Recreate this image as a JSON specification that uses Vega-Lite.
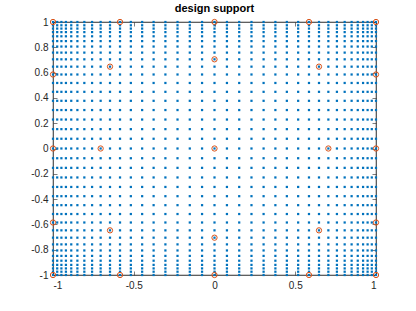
{
"$schema": "https://vega.github.io/schema/vega-lite/v6.json",
"width": 323,
"height": 253,
"autosize": {"type": "none"},
"padding": {"left": 53, "top": 22, "right": 40, "bottom": 36},
"background": "white",
"config": {
  "view": {"stroke": "#262626", "strokeWidth": 0.6},
  "font": "Liberation Sans",
  "axis": {"grid": false, "domainColor": "#262626", "domainWidth": 0.6, "tickColor": "#262626", "tickWidth": 0.6, "tickSize": -4, "labelColor": "#262626", "labelFont": "Liberation Sans", "labelFontSize": 10, "title": null}
},
"title": {"text": "design support", "fontSize": 11, "fontWeight": "bold", "color": "#000000", "font": "Liberation Sans", "anchor": "middle", "offset": 3},
"datasets": {
"grid": [
{"x":-1,"y":-1},{"x":-1,"y":-0.974},{"x":-1,"y":-0.948},{"x":-1,"y":-0.92},{"x":-1,"y":-0.887},{"x":-1,"y":-0.849},{"x":-1,"y":-0.806},{"x":-1,"y":-0.758},{"x":-1,"y":-0.705},{"x":-1,"y":-0.647},{"x":-1,"y":-0.585},{"x":-1,"y":-0.518},{"x":-1,"y":-0.448},{"x":-1,"y":-0.377},{"x":-1,"y":-0.304},{"x":-1,"y":-0.229},{"x":-1,"y":-0.153},{"x":-1,"y":-0.077},{"x":-1,"y":0},{"x":-1,"y":0.077},{"x":-1,"y":0.153},{"x":-1,"y":0.229},{"x":-1,"y":0.304},{"x":-1,"y":0.377},{"x":-1,"y":0.448},{"x":-1,"y":0.518},{"x":-1,"y":0.585},{"x":-1,"y":0.647},{"x":-1,"y":0.705},{"x":-1,"y":0.758},{"x":-1,"y":0.806},{"x":-1,"y":0.849},{"x":-1,"y":0.887},{"x":-1,"y":0.92},{"x":-1,"y":0.948},{"x":-1,"y":0.974},{"x":-1,"y":1},
{"x":-0.974,"y":-1},{"x":-0.974,"y":-0.974},{"x":-0.974,"y":-0.948},{"x":-0.974,"y":-0.92},{"x":-0.974,"y":-0.887},{"x":-0.974,"y":-0.849},{"x":-0.974,"y":-0.806},{"x":-0.974,"y":-0.758},{"x":-0.974,"y":-0.705},{"x":-0.974,"y":-0.647},{"x":-0.974,"y":-0.585},{"x":-0.974,"y":-0.518},{"x":-0.974,"y":-0.448},{"x":-0.974,"y":-0.377},{"x":-0.974,"y":-0.304},{"x":-0.974,"y":-0.229},{"x":-0.974,"y":-0.153},{"x":-0.974,"y":-0.077},{"x":-0.974,"y":0},{"x":-0.974,"y":0.077},{"x":-0.974,"y":0.153},{"x":-0.974,"y":0.229},{"x":-0.974,"y":0.304},{"x":-0.974,"y":0.377},{"x":-0.974,"y":0.448},{"x":-0.974,"y":0.518},{"x":-0.974,"y":0.585},{"x":-0.974,"y":0.647},{"x":-0.974,"y":0.705},{"x":-0.974,"y":0.758},{"x":-0.974,"y":0.806},{"x":-0.974,"y":0.849},{"x":-0.974,"y":0.887},{"x":-0.974,"y":0.92},{"x":-0.974,"y":0.948},{"x":-0.974,"y":0.974},{"x":-0.974,"y":1},
{"x":-0.948,"y":-1},{"x":-0.948,"y":-0.974},{"x":-0.948,"y":-0.948},{"x":-0.948,"y":-0.92},{"x":-0.948,"y":-0.887},{"x":-0.948,"y":-0.849},{"x":-0.948,"y":-0.806},{"x":-0.948,"y":-0.758},{"x":-0.948,"y":-0.705},{"x":-0.948,"y":-0.647},{"x":-0.948,"y":-0.585},{"x":-0.948,"y":-0.518},{"x":-0.948,"y":-0.448},{"x":-0.948,"y":-0.377},{"x":-0.948,"y":-0.304},{"x":-0.948,"y":-0.229},{"x":-0.948,"y":-0.153},{"x":-0.948,"y":-0.077},{"x":-0.948,"y":0},{"x":-0.948,"y":0.077},{"x":-0.948,"y":0.153},{"x":-0.948,"y":0.229},{"x":-0.948,"y":0.304},{"x":-0.948,"y":0.377},{"x":-0.948,"y":0.448},{"x":-0.948,"y":0.518},{"x":-0.948,"y":0.585},{"x":-0.948,"y":0.647},{"x":-0.948,"y":0.705},{"x":-0.948,"y":0.758},{"x":-0.948,"y":0.806},{"x":-0.948,"y":0.849},{"x":-0.948,"y":0.887},{"x":-0.948,"y":0.92},{"x":-0.948,"y":0.948},{"x":-0.948,"y":0.974},{"x":-0.948,"y":1},
{"x":-0.92,"y":-1},{"x":-0.92,"y":-0.974},{"x":-0.92,"y":-0.948},{"x":-0.92,"y":-0.92},{"x":-0.92,"y":-0.887},{"x":-0.92,"y":-0.849},{"x":-0.92,"y":-0.806},{"x":-0.92,"y":-0.758},{"x":-0.92,"y":-0.705},{"x":-0.92,"y":-0.647},{"x":-0.92,"y":-0.585},{"x":-0.92,"y":-0.518},{"x":-0.92,"y":-0.448},{"x":-0.92,"y":-0.377},{"x":-0.92,"y":-0.304},{"x":-0.92,"y":-0.229},{"x":-0.92,"y":-0.153},{"x":-0.92,"y":-0.077},{"x":-0.92,"y":0},{"x":-0.92,"y":0.077},{"x":-0.92,"y":0.153},{"x":-0.92,"y":0.229},{"x":-0.92,"y":0.304},{"x":-0.92,"y":0.377},{"x":-0.92,"y":0.448},{"x":-0.92,"y":0.518},{"x":-0.92,"y":0.585},{"x":-0.92,"y":0.647},{"x":-0.92,"y":0.705},{"x":-0.92,"y":0.758},{"x":-0.92,"y":0.806},{"x":-0.92,"y":0.849},{"x":-0.92,"y":0.887},{"x":-0.92,"y":0.92},{"x":-0.92,"y":0.948},{"x":-0.92,"y":0.974},{"x":-0.92,"y":1},
{"x":-0.887,"y":-1},{"x":-0.887,"y":-0.974},{"x":-0.887,"y":-0.948},{"x":-0.887,"y":-0.92},{"x":-0.887,"y":-0.887},{"x":-0.887,"y":-0.849},{"x":-0.887,"y":-0.806},{"x":-0.887,"y":-0.758},{"x":-0.887,"y":-0.705},{"x":-0.887,"y":-0.647},{"x":-0.887,"y":-0.585},{"x":-0.887,"y":-0.518},{"x":-0.887,"y":-0.448},{"x":-0.887,"y":-0.377},{"x":-0.887,"y":-0.304},{"x":-0.887,"y":-0.229},{"x":-0.887,"y":-0.153},{"x":-0.887,"y":-0.077},{"x":-0.887,"y":0},{"x":-0.887,"y":0.077},{"x":-0.887,"y":0.153},{"x":-0.887,"y":0.229},{"x":-0.887,"y":0.304},{"x":-0.887,"y":0.377},{"x":-0.887,"y":0.448},{"x":-0.887,"y":0.518},{"x":-0.887,"y":0.585},{"x":-0.887,"y":0.647},{"x":-0.887,"y":0.705},{"x":-0.887,"y":0.758},{"x":-0.887,"y":0.806},{"x":-0.887,"y":0.849},{"x":-0.887,"y":0.887},{"x":-0.887,"y":0.92},{"x":-0.887,"y":0.948},{"x":-0.887,"y":0.974},{"x":-0.887,"y":1},
{"x":-0.849,"y":-1},{"x":-0.849,"y":-0.974},{"x":-0.849,"y":-0.948},{"x":-0.849,"y":-0.92},{"x":-0.849,"y":-0.887},{"x":-0.849,"y":-0.849},{"x":-0.849,"y":-0.806},{"x":-0.849,"y":-0.758},{"x":-0.849,"y":-0.705},{"x":-0.849,"y":-0.647},{"x":-0.849,"y":-0.585},{"x":-0.849,"y":-0.518},{"x":-0.849,"y":-0.448},{"x":-0.849,"y":-0.377},{"x":-0.849,"y":-0.304},{"x":-0.849,"y":-0.229},{"x":-0.849,"y":-0.153},{"x":-0.849,"y":-0.077},{"x":-0.849,"y":0},{"x":-0.849,"y":0.077},{"x":-0.849,"y":0.153},{"x":-0.849,"y":0.229},{"x":-0.849,"y":0.304},{"x":-0.849,"y":0.377},{"x":-0.849,"y":0.448},{"x":-0.849,"y":0.518},{"x":-0.849,"y":0.585},{"x":-0.849,"y":0.647},{"x":-0.849,"y":0.705},{"x":-0.849,"y":0.758},{"x":-0.849,"y":0.806},{"x":-0.849,"y":0.849},{"x":-0.849,"y":0.887},{"x":-0.849,"y":0.92},{"x":-0.849,"y":0.948},{"x":-0.849,"y":0.974},{"x":-0.849,"y":1},
{"x":-0.806,"y":-1},{"x":-0.806,"y":-0.974},{"x":-0.806,"y":-0.948},{"x":-0.806,"y":-0.92},{"x":-0.806,"y":-0.887},{"x":-0.806,"y":-0.849},{"x":-0.806,"y":-0.806},{"x":-0.806,"y":-0.758},{"x":-0.806,"y":-0.705},{"x":-0.806,"y":-0.647},{"x":-0.806,"y":-0.585},{"x":-0.806,"y":-0.518},{"x":-0.806,"y":-0.448},{"x":-0.806,"y":-0.377},{"x":-0.806,"y":-0.304},{"x":-0.806,"y":-0.229},{"x":-0.806,"y":-0.153},{"x":-0.806,"y":-0.077},{"x":-0.806,"y":0},{"x":-0.806,"y":0.077},{"x":-0.806,"y":0.153},{"x":-0.806,"y":0.229},{"x":-0.806,"y":0.304},{"x":-0.806,"y":0.377},{"x":-0.806,"y":0.448},{"x":-0.806,"y":0.518},{"x":-0.806,"y":0.585},{"x":-0.806,"y":0.647},{"x":-0.806,"y":0.705},{"x":-0.806,"y":0.758},{"x":-0.806,"y":0.806},{"x":-0.806,"y":0.849},{"x":-0.806,"y":0.887},{"x":-0.806,"y":0.92},{"x":-0.806,"y":0.948},{"x":-0.806,"y":0.974},{"x":-0.806,"y":1},
{"x":-0.758,"y":-1},{"x":-0.758,"y":-0.974},{"x":-0.758,"y":-0.948},{"x":-0.758,"y":-0.92},{"x":-0.758,"y":-0.887},{"x":-0.758,"y":-0.849},{"x":-0.758,"y":-0.806},{"x":-0.758,"y":-0.758},{"x":-0.758,"y":-0.705},{"x":-0.758,"y":-0.647},{"x":-0.758,"y":-0.585},{"x":-0.758,"y":-0.518},{"x":-0.758,"y":-0.448},{"x":-0.758,"y":-0.377},{"x":-0.758,"y":-0.304},{"x":-0.758,"y":-0.229},{"x":-0.758,"y":-0.153},{"x":-0.758,"y":-0.077},{"x":-0.758,"y":0},{"x":-0.758,"y":0.077},{"x":-0.758,"y":0.153},{"x":-0.758,"y":0.229},{"x":-0.758,"y":0.304},{"x":-0.758,"y":0.377},{"x":-0.758,"y":0.448},{"x":-0.758,"y":0.518},{"x":-0.758,"y":0.585},{"x":-0.758,"y":0.647},{"x":-0.758,"y":0.705},{"x":-0.758,"y":0.758},{"x":-0.758,"y":0.806},{"x":-0.758,"y":0.849},{"x":-0.758,"y":0.887},{"x":-0.758,"y":0.92},{"x":-0.758,"y":0.948},{"x":-0.758,"y":0.974},{"x":-0.758,"y":1},
{"x":-0.705,"y":-1},{"x":-0.705,"y":-0.974},{"x":-0.705,"y":-0.948},{"x":-0.705,"y":-0.92},{"x":-0.705,"y":-0.887},{"x":-0.705,"y":-0.849},{"x":-0.705,"y":-0.806},{"x":-0.705,"y":-0.758},{"x":-0.705,"y":-0.705},{"x":-0.705,"y":-0.647},{"x":-0.705,"y":-0.585},{"x":-0.705,"y":-0.518},{"x":-0.705,"y":-0.448},{"x":-0.705,"y":-0.377},{"x":-0.705,"y":-0.304},{"x":-0.705,"y":-0.229},{"x":-0.705,"y":-0.153},{"x":-0.705,"y":-0.077},{"x":-0.705,"y":0},{"x":-0.705,"y":0.077},{"x":-0.705,"y":0.153},{"x":-0.705,"y":0.229},{"x":-0.705,"y":0.304},{"x":-0.705,"y":0.377},{"x":-0.705,"y":0.448},{"x":-0.705,"y":0.518},{"x":-0.705,"y":0.585},{"x":-0.705,"y":0.647},{"x":-0.705,"y":0.705},{"x":-0.705,"y":0.758},{"x":-0.705,"y":0.806},{"x":-0.705,"y":0.849},{"x":-0.705,"y":0.887},{"x":-0.705,"y":0.92},{"x":-0.705,"y":0.948},{"x":-0.705,"y":0.974},{"x":-0.705,"y":1},
{"x":-0.647,"y":-1},{"x":-0.647,"y":-0.974},{"x":-0.647,"y":-0.948},{"x":-0.647,"y":-0.92},{"x":-0.647,"y":-0.887},{"x":-0.647,"y":-0.849},{"x":-0.647,"y":-0.806},{"x":-0.647,"y":-0.758},{"x":-0.647,"y":-0.705},{"x":-0.647,"y":-0.647},{"x":-0.647,"y":-0.585},{"x":-0.647,"y":-0.518},{"x":-0.647,"y":-0.448},{"x":-0.647,"y":-0.377},{"x":-0.647,"y":-0.304},{"x":-0.647,"y":-0.229},{"x":-0.647,"y":-0.153},{"x":-0.647,"y":-0.077},{"x":-0.647,"y":0},{"x":-0.647,"y":0.077},{"x":-0.647,"y":0.153},{"x":-0.647,"y":0.229},{"x":-0.647,"y":0.304},{"x":-0.647,"y":0.377},{"x":-0.647,"y":0.448},{"x":-0.647,"y":0.518},{"x":-0.647,"y":0.585},{"x":-0.647,"y":0.647},{"x":-0.647,"y":0.705},{"x":-0.647,"y":0.758},{"x":-0.647,"y":0.806},{"x":-0.647,"y":0.849},{"x":-0.647,"y":0.887},{"x":-0.647,"y":0.92},{"x":-0.647,"y":0.948},{"x":-0.647,"y":0.974},{"x":-0.647,"y":1},
{"x":-0.585,"y":-1},{"x":-0.585,"y":-0.974},{"x":-0.585,"y":-0.948},{"x":-0.585,"y":-0.92},{"x":-0.585,"y":-0.887},{"x":-0.585,"y":-0.849},{"x":-0.585,"y":-0.806},{"x":-0.585,"y":-0.758},{"x":-0.585,"y":-0.705},{"x":-0.585,"y":-0.647},{"x":-0.585,"y":-0.585},{"x":-0.585,"y":-0.518},{"x":-0.585,"y":-0.448},{"x":-0.585,"y":-0.377},{"x":-0.585,"y":-0.304},{"x":-0.585,"y":-0.229},{"x":-0.585,"y":-0.153},{"x":-0.585,"y":-0.077},{"x":-0.585,"y":0},{"x":-0.585,"y":0.077},{"x":-0.585,"y":0.153},{"x":-0.585,"y":0.229},{"x":-0.585,"y":0.304},{"x":-0.585,"y":0.377},{"x":-0.585,"y":0.448},{"x":-0.585,"y":0.518},{"x":-0.585,"y":0.585},{"x":-0.585,"y":0.647},{"x":-0.585,"y":0.705},{"x":-0.585,"y":0.758},{"x":-0.585,"y":0.806},{"x":-0.585,"y":0.849},{"x":-0.585,"y":0.887},{"x":-0.585,"y":0.92},{"x":-0.585,"y":0.948},{"x":-0.585,"y":0.974},{"x":-0.585,"y":1},
{"x":-0.518,"y":-1},{"x":-0.518,"y":-0.974},{"x":-0.518,"y":-0.948},{"x":-0.518,"y":-0.92},{"x":-0.518,"y":-0.887},{"x":-0.518,"y":-0.849},{"x":-0.518,"y":-0.806},{"x":-0.518,"y":-0.758},{"x":-0.518,"y":-0.705},{"x":-0.518,"y":-0.647},{"x":-0.518,"y":-0.585},{"x":-0.518,"y":-0.518},{"x":-0.518,"y":-0.448},{"x":-0.518,"y":-0.377},{"x":-0.518,"y":-0.304},{"x":-0.518,"y":-0.229},{"x":-0.518,"y":-0.153},{"x":-0.518,"y":-0.077},{"x":-0.518,"y":0},{"x":-0.518,"y":0.077},{"x":-0.518,"y":0.153},{"x":-0.518,"y":0.229},{"x":-0.518,"y":0.304},{"x":-0.518,"y":0.377},{"x":-0.518,"y":0.448},{"x":-0.518,"y":0.518},{"x":-0.518,"y":0.585},{"x":-0.518,"y":0.647},{"x":-0.518,"y":0.705},{"x":-0.518,"y":0.758},{"x":-0.518,"y":0.806},{"x":-0.518,"y":0.849},{"x":-0.518,"y":0.887},{"x":-0.518,"y":0.92},{"x":-0.518,"y":0.948},{"x":-0.518,"y":0.974},{"x":-0.518,"y":1},
{"x":-0.448,"y":-1},{"x":-0.448,"y":-0.974},{"x":-0.448,"y":-0.948},{"x":-0.448,"y":-0.92},{"x":-0.448,"y":-0.887},{"x":-0.448,"y":-0.849},{"x":-0.448,"y":-0.806},{"x":-0.448,"y":-0.758},{"x":-0.448,"y":-0.705},{"x":-0.448,"y":-0.647},{"x":-0.448,"y":-0.585},{"x":-0.448,"y":-0.518},{"x":-0.448,"y":-0.448},{"x":-0.448,"y":-0.377},{"x":-0.448,"y":-0.304},{"x":-0.448,"y":-0.229},{"x":-0.448,"y":-0.153},{"x":-0.448,"y":-0.077},{"x":-0.448,"y":0},{"x":-0.448,"y":0.077},{"x":-0.448,"y":0.153},{"x":-0.448,"y":0.229},{"x":-0.448,"y":0.304},{"x":-0.448,"y":0.377},{"x":-0.448,"y":0.448},{"x":-0.448,"y":0.518},{"x":-0.448,"y":0.585},{"x":-0.448,"y":0.647},{"x":-0.448,"y":0.705},{"x":-0.448,"y":0.758},{"x":-0.448,"y":0.806},{"x":-0.448,"y":0.849},{"x":-0.448,"y":0.887},{"x":-0.448,"y":0.92},{"x":-0.448,"y":0.948},{"x":-0.448,"y":0.974},{"x":-0.448,"y":1},
{"x":-0.377,"y":-1},{"x":-0.377,"y":-0.974},{"x":-0.377,"y":-0.948},{"x":-0.377,"y":-0.92},{"x":-0.377,"y":-0.887},{"x":-0.377,"y":-0.849},{"x":-0.377,"y":-0.806},{"x":-0.377,"y":-0.758},{"x":-0.377,"y":-0.705},{"x":-0.377,"y":-0.647},{"x":-0.377,"y":-0.585},{"x":-0.377,"y":-0.518},{"x":-0.377,"y":-0.448},{"x":-0.377,"y":-0.377},{"x":-0.377,"y":-0.304},{"x":-0.377,"y":-0.229},{"x":-0.377,"y":-0.153},{"x":-0.377,"y":-0.077},{"x":-0.377,"y":0},{"x":-0.377,"y":0.077},{"x":-0.377,"y":0.153},{"x":-0.377,"y":0.229},{"x":-0.377,"y":0.304},{"x":-0.377,"y":0.377},{"x":-0.377,"y":0.448},{"x":-0.377,"y":0.518},{"x":-0.377,"y":0.585},{"x":-0.377,"y":0.647},{"x":-0.377,"y":0.705},{"x":-0.377,"y":0.758},{"x":-0.377,"y":0.806},{"x":-0.377,"y":0.849},{"x":-0.377,"y":0.887},{"x":-0.377,"y":0.92},{"x":-0.377,"y":0.948},{"x":-0.377,"y":0.974},{"x":-0.377,"y":1},
{"x":-0.304,"y":-1},{"x":-0.304,"y":-0.974},{"x":-0.304,"y":-0.948},{"x":-0.304,"y":-0.92},{"x":-0.304,"y":-0.887},{"x":-0.304,"y":-0.849},{"x":-0.304,"y":-0.806},{"x":-0.304,"y":-0.758},{"x":-0.304,"y":-0.705},{"x":-0.304,"y":-0.647},{"x":-0.304,"y":-0.585},{"x":-0.304,"y":-0.518},{"x":-0.304,"y":-0.448},{"x":-0.304,"y":-0.377},{"x":-0.304,"y":-0.304},{"x":-0.304,"y":-0.229},{"x":-0.304,"y":-0.153},{"x":-0.304,"y":-0.077},{"x":-0.304,"y":0},{"x":-0.304,"y":0.077},{"x":-0.304,"y":0.153},{"x":-0.304,"y":0.229},{"x":-0.304,"y":0.304},{"x":-0.304,"y":0.377},{"x":-0.304,"y":0.448},{"x":-0.304,"y":0.518},{"x":-0.304,"y":0.585},{"x":-0.304,"y":0.647},{"x":-0.304,"y":0.705},{"x":-0.304,"y":0.758},{"x":-0.304,"y":0.806},{"x":-0.304,"y":0.849},{"x":-0.304,"y":0.887},{"x":-0.304,"y":0.92},{"x":-0.304,"y":0.948},{"x":-0.304,"y":0.974},{"x":-0.304,"y":1},
{"x":-0.229,"y":-1},{"x":-0.229,"y":-0.974},{"x":-0.229,"y":-0.948},{"x":-0.229,"y":-0.92},{"x":-0.229,"y":-0.887},{"x":-0.229,"y":-0.849},{"x":-0.229,"y":-0.806},{"x":-0.229,"y":-0.758},{"x":-0.229,"y":-0.705},{"x":-0.229,"y":-0.647},{"x":-0.229,"y":-0.585},{"x":-0.229,"y":-0.518},{"x":-0.229,"y":-0.448},{"x":-0.229,"y":-0.377},{"x":-0.229,"y":-0.304},{"x":-0.229,"y":-0.229},{"x":-0.229,"y":-0.153},{"x":-0.229,"y":-0.077},{"x":-0.229,"y":0},{"x":-0.229,"y":0.077},{"x":-0.229,"y":0.153},{"x":-0.229,"y":0.229},{"x":-0.229,"y":0.304},{"x":-0.229,"y":0.377},{"x":-0.229,"y":0.448},{"x":-0.229,"y":0.518},{"x":-0.229,"y":0.585},{"x":-0.229,"y":0.647},{"x":-0.229,"y":0.705},{"x":-0.229,"y":0.758},{"x":-0.229,"y":0.806},{"x":-0.229,"y":0.849},{"x":-0.229,"y":0.887},{"x":-0.229,"y":0.92},{"x":-0.229,"y":0.948},{"x":-0.229,"y":0.974},{"x":-0.229,"y":1},
{"x":-0.153,"y":-1},{"x":-0.153,"y":-0.974},{"x":-0.153,"y":-0.948},{"x":-0.153,"y":-0.92},{"x":-0.153,"y":-0.887},{"x":-0.153,"y":-0.849},{"x":-0.153,"y":-0.806},{"x":-0.153,"y":-0.758},{"x":-0.153,"y":-0.705},{"x":-0.153,"y":-0.647},{"x":-0.153,"y":-0.585},{"x":-0.153,"y":-0.518},{"x":-0.153,"y":-0.448},{"x":-0.153,"y":-0.377},{"x":-0.153,"y":-0.304},{"x":-0.153,"y":-0.229},{"x":-0.153,"y":-0.153},{"x":-0.153,"y":-0.077},{"x":-0.153,"y":0},{"x":-0.153,"y":0.077},{"x":-0.153,"y":0.153},{"x":-0.153,"y":0.229},{"x":-0.153,"y":0.304},{"x":-0.153,"y":0.377},{"x":-0.153,"y":0.448},{"x":-0.153,"y":0.518},{"x":-0.153,"y":0.585},{"x":-0.153,"y":0.647},{"x":-0.153,"y":0.705},{"x":-0.153,"y":0.758},{"x":-0.153,"y":0.806},{"x":-0.153,"y":0.849},{"x":-0.153,"y":0.887},{"x":-0.153,"y":0.92},{"x":-0.153,"y":0.948},{"x":-0.153,"y":0.974},{"x":-0.153,"y":1},
{"x":-0.077,"y":-1},{"x":-0.077,"y":-0.974},{"x":-0.077,"y":-0.948},{"x":-0.077,"y":-0.92},{"x":-0.077,"y":-0.887},{"x":-0.077,"y":-0.849},{"x":-0.077,"y":-0.806},{"x":-0.077,"y":-0.758},{"x":-0.077,"y":-0.705},{"x":-0.077,"y":-0.647},{"x":-0.077,"y":-0.585},{"x":-0.077,"y":-0.518},{"x":-0.077,"y":-0.448},{"x":-0.077,"y":-0.377},{"x":-0.077,"y":-0.304},{"x":-0.077,"y":-0.229},{"x":-0.077,"y":-0.153},{"x":-0.077,"y":-0.077},{"x":-0.077,"y":0},{"x":-0.077,"y":0.077},{"x":-0.077,"y":0.153},{"x":-0.077,"y":0.229},{"x":-0.077,"y":0.304},{"x":-0.077,"y":0.377},{"x":-0.077,"y":0.448},{"x":-0.077,"y":0.518},{"x":-0.077,"y":0.585},{"x":-0.077,"y":0.647},{"x":-0.077,"y":0.705},{"x":-0.077,"y":0.758},{"x":-0.077,"y":0.806},{"x":-0.077,"y":0.849},{"x":-0.077,"y":0.887},{"x":-0.077,"y":0.92},{"x":-0.077,"y":0.948},{"x":-0.077,"y":0.974},{"x":-0.077,"y":1},
{"x":0,"y":-1},{"x":0,"y":-0.974},{"x":0,"y":-0.948},{"x":0,"y":-0.92},{"x":0,"y":-0.887},{"x":0,"y":-0.849},{"x":0,"y":-0.806},{"x":0,"y":-0.758},{"x":0,"y":-0.705},{"x":0,"y":-0.647},{"x":0,"y":-0.585},{"x":0,"y":-0.518},{"x":0,"y":-0.448},{"x":0,"y":-0.377},{"x":0,"y":-0.304},{"x":0,"y":-0.229},{"x":0,"y":-0.153},{"x":0,"y":-0.077},{"x":0,"y":0},{"x":0,"y":0.077},{"x":0,"y":0.153},{"x":0,"y":0.229},{"x":0,"y":0.304},{"x":0,"y":0.377},{"x":0,"y":0.448},{"x":0,"y":0.518},{"x":0,"y":0.585},{"x":0,"y":0.647},{"x":0,"y":0.705},{"x":0,"y":0.758},{"x":0,"y":0.806},{"x":0,"y":0.849},{"x":0,"y":0.887},{"x":0,"y":0.92},{"x":0,"y":0.948},{"x":0,"y":0.974},{"x":0,"y":1},
{"x":0.077,"y":-1},{"x":0.077,"y":-0.974},{"x":0.077,"y":-0.948},{"x":0.077,"y":-0.92},{"x":0.077,"y":-0.887},{"x":0.077,"y":-0.849},{"x":0.077,"y":-0.806},{"x":0.077,"y":-0.758},{"x":0.077,"y":-0.705},{"x":0.077,"y":-0.647},{"x":0.077,"y":-0.585},{"x":0.077,"y":-0.518},{"x":0.077,"y":-0.448},{"x":0.077,"y":-0.377},{"x":0.077,"y":-0.304},{"x":0.077,"y":-0.229},{"x":0.077,"y":-0.153},{"x":0.077,"y":-0.077},{"x":0.077,"y":0},{"x":0.077,"y":0.077},{"x":0.077,"y":0.153},{"x":0.077,"y":0.229},{"x":0.077,"y":0.304},{"x":0.077,"y":0.377},{"x":0.077,"y":0.448},{"x":0.077,"y":0.518},{"x":0.077,"y":0.585},{"x":0.077,"y":0.647},{"x":0.077,"y":0.705},{"x":0.077,"y":0.758},{"x":0.077,"y":0.806},{"x":0.077,"y":0.849},{"x":0.077,"y":0.887},{"x":0.077,"y":0.92},{"x":0.077,"y":0.948},{"x":0.077,"y":0.974},{"x":0.077,"y":1},
{"x":0.153,"y":-1},{"x":0.153,"y":-0.974},{"x":0.153,"y":-0.948},{"x":0.153,"y":-0.92},{"x":0.153,"y":-0.887},{"x":0.153,"y":-0.849},{"x":0.153,"y":-0.806},{"x":0.153,"y":-0.758},{"x":0.153,"y":-0.705},{"x":0.153,"y":-0.647},{"x":0.153,"y":-0.585},{"x":0.153,"y":-0.518},{"x":0.153,"y":-0.448},{"x":0.153,"y":-0.377},{"x":0.153,"y":-0.304},{"x":0.153,"y":-0.229},{"x":0.153,"y":-0.153},{"x":0.153,"y":-0.077},{"x":0.153,"y":0},{"x":0.153,"y":0.077},{"x":0.153,"y":0.153},{"x":0.153,"y":0.229},{"x":0.153,"y":0.304},{"x":0.153,"y":0.377},{"x":0.153,"y":0.448},{"x":0.153,"y":0.518},{"x":0.153,"y":0.585},{"x":0.153,"y":0.647},{"x":0.153,"y":0.705},{"x":0.153,"y":0.758},{"x":0.153,"y":0.806},{"x":0.153,"y":0.849},{"x":0.153,"y":0.887},{"x":0.153,"y":0.92},{"x":0.153,"y":0.948},{"x":0.153,"y":0.974},{"x":0.153,"y":1},
{"x":0.229,"y":-1},{"x":0.229,"y":-0.974},{"x":0.229,"y":-0.948},{"x":0.229,"y":-0.92},{"x":0.229,"y":-0.887},{"x":0.229,"y":-0.849},{"x":0.229,"y":-0.806},{"x":0.229,"y":-0.758},{"x":0.229,"y":-0.705},{"x":0.229,"y":-0.647},{"x":0.229,"y":-0.585},{"x":0.229,"y":-0.518},{"x":0.229,"y":-0.448},{"x":0.229,"y":-0.377},{"x":0.229,"y":-0.304},{"x":0.229,"y":-0.229},{"x":0.229,"y":-0.153},{"x":0.229,"y":-0.077},{"x":0.229,"y":0},{"x":0.229,"y":0.077},{"x":0.229,"y":0.153},{"x":0.229,"y":0.229},{"x":0.229,"y":0.304},{"x":0.229,"y":0.377},{"x":0.229,"y":0.448},{"x":0.229,"y":0.518},{"x":0.229,"y":0.585},{"x":0.229,"y":0.647},{"x":0.229,"y":0.705},{"x":0.229,"y":0.758},{"x":0.229,"y":0.806},{"x":0.229,"y":0.849},{"x":0.229,"y":0.887},{"x":0.229,"y":0.92},{"x":0.229,"y":0.948},{"x":0.229,"y":0.974},{"x":0.229,"y":1},
{"x":0.304,"y":-1},{"x":0.304,"y":-0.974},{"x":0.304,"y":-0.948},{"x":0.304,"y":-0.92},{"x":0.304,"y":-0.887},{"x":0.304,"y":-0.849},{"x":0.304,"y":-0.806},{"x":0.304,"y":-0.758},{"x":0.304,"y":-0.705},{"x":0.304,"y":-0.647},{"x":0.304,"y":-0.585},{"x":0.304,"y":-0.518},{"x":0.304,"y":-0.448},{"x":0.304,"y":-0.377},{"x":0.304,"y":-0.304},{"x":0.304,"y":-0.229},{"x":0.304,"y":-0.153},{"x":0.304,"y":-0.077},{"x":0.304,"y":0},{"x":0.304,"y":0.077},{"x":0.304,"y":0.153},{"x":0.304,"y":0.229},{"x":0.304,"y":0.304},{"x":0.304,"y":0.377},{"x":0.304,"y":0.448},{"x":0.304,"y":0.518},{"x":0.304,"y":0.585},{"x":0.304,"y":0.647},{"x":0.304,"y":0.705},{"x":0.304,"y":0.758},{"x":0.304,"y":0.806},{"x":0.304,"y":0.849},{"x":0.304,"y":0.887},{"x":0.304,"y":0.92},{"x":0.304,"y":0.948},{"x":0.304,"y":0.974},{"x":0.304,"y":1},
{"x":0.377,"y":-1},{"x":0.377,"y":-0.974},{"x":0.377,"y":-0.948},{"x":0.377,"y":-0.92},{"x":0.377,"y":-0.887},{"x":0.377,"y":-0.849},{"x":0.377,"y":-0.806},{"x":0.377,"y":-0.758},{"x":0.377,"y":-0.705},{"x":0.377,"y":-0.647},{"x":0.377,"y":-0.585},{"x":0.377,"y":-0.518},{"x":0.377,"y":-0.448},{"x":0.377,"y":-0.377},{"x":0.377,"y":-0.304},{"x":0.377,"y":-0.229},{"x":0.377,"y":-0.153},{"x":0.377,"y":-0.077},{"x":0.377,"y":0},{"x":0.377,"y":0.077},{"x":0.377,"y":0.153},{"x":0.377,"y":0.229},{"x":0.377,"y":0.304},{"x":0.377,"y":0.377},{"x":0.377,"y":0.448},{"x":0.377,"y":0.518},{"x":0.377,"y":0.585},{"x":0.377,"y":0.647},{"x":0.377,"y":0.705},{"x":0.377,"y":0.758},{"x":0.377,"y":0.806},{"x":0.377,"y":0.849},{"x":0.377,"y":0.887},{"x":0.377,"y":0.92},{"x":0.377,"y":0.948},{"x":0.377,"y":0.974},{"x":0.377,"y":1},
{"x":0.448,"y":-1},{"x":0.448,"y":-0.974},{"x":0.448,"y":-0.948},{"x":0.448,"y":-0.92},{"x":0.448,"y":-0.887},{"x":0.448,"y":-0.849},{"x":0.448,"y":-0.806},{"x":0.448,"y":-0.758},{"x":0.448,"y":-0.705},{"x":0.448,"y":-0.647},{"x":0.448,"y":-0.585},{"x":0.448,"y":-0.518},{"x":0.448,"y":-0.448},{"x":0.448,"y":-0.377},{"x":0.448,"y":-0.304},{"x":0.448,"y":-0.229},{"x":0.448,"y":-0.153},{"x":0.448,"y":-0.077},{"x":0.448,"y":0},{"x":0.448,"y":0.077},{"x":0.448,"y":0.153},{"x":0.448,"y":0.229},{"x":0.448,"y":0.304},{"x":0.448,"y":0.377},{"x":0.448,"y":0.448},{"x":0.448,"y":0.518},{"x":0.448,"y":0.585},{"x":0.448,"y":0.647},{"x":0.448,"y":0.705},{"x":0.448,"y":0.758},{"x":0.448,"y":0.806},{"x":0.448,"y":0.849},{"x":0.448,"y":0.887},{"x":0.448,"y":0.92},{"x":0.448,"y":0.948},{"x":0.448,"y":0.974},{"x":0.448,"y":1},
{"x":0.518,"y":-1},{"x":0.518,"y":-0.974},{"x":0.518,"y":-0.948},{"x":0.518,"y":-0.92},{"x":0.518,"y":-0.887},{"x":0.518,"y":-0.849},{"x":0.518,"y":-0.806},{"x":0.518,"y":-0.758},{"x":0.518,"y":-0.705},{"x":0.518,"y":-0.647},{"x":0.518,"y":-0.585},{"x":0.518,"y":-0.518},{"x":0.518,"y":-0.448},{"x":0.518,"y":-0.377},{"x":0.518,"y":-0.304},{"x":0.518,"y":-0.229},{"x":0.518,"y":-0.153},{"x":0.518,"y":-0.077},{"x":0.518,"y":0},{"x":0.518,"y":0.077},{"x":0.518,"y":0.153},{"x":0.518,"y":0.229},{"x":0.518,"y":0.304},{"x":0.518,"y":0.377},{"x":0.518,"y":0.448},{"x":0.518,"y":0.518},{"x":0.518,"y":0.585},{"x":0.518,"y":0.647},{"x":0.518,"y":0.705},{"x":0.518,"y":0.758},{"x":0.518,"y":0.806},{"x":0.518,"y":0.849},{"x":0.518,"y":0.887},{"x":0.518,"y":0.92},{"x":0.518,"y":0.948},{"x":0.518,"y":0.974},{"x":0.518,"y":1},
{"x":0.585,"y":-1},{"x":0.585,"y":-0.974},{"x":0.585,"y":-0.948},{"x":0.585,"y":-0.92},{"x":0.585,"y":-0.887},{"x":0.585,"y":-0.849},{"x":0.585,"y":-0.806},{"x":0.585,"y":-0.758},{"x":0.585,"y":-0.705},{"x":0.585,"y":-0.647},{"x":0.585,"y":-0.585},{"x":0.585,"y":-0.518},{"x":0.585,"y":-0.448},{"x":0.585,"y":-0.377},{"x":0.585,"y":-0.304},{"x":0.585,"y":-0.229},{"x":0.585,"y":-0.153},{"x":0.585,"y":-0.077},{"x":0.585,"y":0},{"x":0.585,"y":0.077},{"x":0.585,"y":0.153},{"x":0.585,"y":0.229},{"x":0.585,"y":0.304},{"x":0.585,"y":0.377},{"x":0.585,"y":0.448},{"x":0.585,"y":0.518},{"x":0.585,"y":0.585},{"x":0.585,"y":0.647},{"x":0.585,"y":0.705},{"x":0.585,"y":0.758},{"x":0.585,"y":0.806},{"x":0.585,"y":0.849},{"x":0.585,"y":0.887},{"x":0.585,"y":0.92},{"x":0.585,"y":0.948},{"x":0.585,"y":0.974},{"x":0.585,"y":1},
{"x":0.647,"y":-1},{"x":0.647,"y":-0.974},{"x":0.647,"y":-0.948},{"x":0.647,"y":-0.92},{"x":0.647,"y":-0.887},{"x":0.647,"y":-0.849},{"x":0.647,"y":-0.806},{"x":0.647,"y":-0.758},{"x":0.647,"y":-0.705},{"x":0.647,"y":-0.647},{"x":0.647,"y":-0.585},{"x":0.647,"y":-0.518},{"x":0.647,"y":-0.448},{"x":0.647,"y":-0.377},{"x":0.647,"y":-0.304},{"x":0.647,"y":-0.229},{"x":0.647,"y":-0.153},{"x":0.647,"y":-0.077},{"x":0.647,"y":0},{"x":0.647,"y":0.077},{"x":0.647,"y":0.153},{"x":0.647,"y":0.229},{"x":0.647,"y":0.304},{"x":0.647,"y":0.377},{"x":0.647,"y":0.448},{"x":0.647,"y":0.518},{"x":0.647,"y":0.585},{"x":0.647,"y":0.647},{"x":0.647,"y":0.705},{"x":0.647,"y":0.758},{"x":0.647,"y":0.806},{"x":0.647,"y":0.849},{"x":0.647,"y":0.887},{"x":0.647,"y":0.92},{"x":0.647,"y":0.948},{"x":0.647,"y":0.974},{"x":0.647,"y":1},
{"x":0.705,"y":-1},{"x":0.705,"y":-0.974},{"x":0.705,"y":-0.948},{"x":0.705,"y":-0.92},{"x":0.705,"y":-0.887},{"x":0.705,"y":-0.849},{"x":0.705,"y":-0.806},{"x":0.705,"y":-0.758},{"x":0.705,"y":-0.705},{"x":0.705,"y":-0.647},{"x":0.705,"y":-0.585},{"x":0.705,"y":-0.518},{"x":0.705,"y":-0.448},{"x":0.705,"y":-0.377},{"x":0.705,"y":-0.304},{"x":0.705,"y":-0.229},{"x":0.705,"y":-0.153},{"x":0.705,"y":-0.077},{"x":0.705,"y":0},{"x":0.705,"y":0.077},{"x":0.705,"y":0.153},{"x":0.705,"y":0.229},{"x":0.705,"y":0.304},{"x":0.705,"y":0.377},{"x":0.705,"y":0.448},{"x":0.705,"y":0.518},{"x":0.705,"y":0.585},{"x":0.705,"y":0.647},{"x":0.705,"y":0.705},{"x":0.705,"y":0.758},{"x":0.705,"y":0.806},{"x":0.705,"y":0.849},{"x":0.705,"y":0.887},{"x":0.705,"y":0.92},{"x":0.705,"y":0.948},{"x":0.705,"y":0.974},{"x":0.705,"y":1},
{"x":0.758,"y":-1},{"x":0.758,"y":-0.974},{"x":0.758,"y":-0.948},{"x":0.758,"y":-0.92},{"x":0.758,"y":-0.887},{"x":0.758,"y":-0.849},{"x":0.758,"y":-0.806},{"x":0.758,"y":-0.758},{"x":0.758,"y":-0.705},{"x":0.758,"y":-0.647},{"x":0.758,"y":-0.585},{"x":0.758,"y":-0.518},{"x":0.758,"y":-0.448},{"x":0.758,"y":-0.377},{"x":0.758,"y":-0.304},{"x":0.758,"y":-0.229},{"x":0.758,"y":-0.153},{"x":0.758,"y":-0.077},{"x":0.758,"y":0},{"x":0.758,"y":0.077},{"x":0.758,"y":0.153},{"x":0.758,"y":0.229},{"x":0.758,"y":0.304},{"x":0.758,"y":0.377},{"x":0.758,"y":0.448},{"x":0.758,"y":0.518},{"x":0.758,"y":0.585},{"x":0.758,"y":0.647},{"x":0.758,"y":0.705},{"x":0.758,"y":0.758},{"x":0.758,"y":0.806},{"x":0.758,"y":0.849},{"x":0.758,"y":0.887},{"x":0.758,"y":0.92},{"x":0.758,"y":0.948},{"x":0.758,"y":0.974},{"x":0.758,"y":1},
{"x":0.806,"y":-1},{"x":0.806,"y":-0.974},{"x":0.806,"y":-0.948},{"x":0.806,"y":-0.92},{"x":0.806,"y":-0.887},{"x":0.806,"y":-0.849},{"x":0.806,"y":-0.806},{"x":0.806,"y":-0.758},{"x":0.806,"y":-0.705},{"x":0.806,"y":-0.647},{"x":0.806,"y":-0.585},{"x":0.806,"y":-0.518},{"x":0.806,"y":-0.448},{"x":0.806,"y":-0.377},{"x":0.806,"y":-0.304},{"x":0.806,"y":-0.229},{"x":0.806,"y":-0.153},{"x":0.806,"y":-0.077},{"x":0.806,"y":0},{"x":0.806,"y":0.077},{"x":0.806,"y":0.153},{"x":0.806,"y":0.229},{"x":0.806,"y":0.304},{"x":0.806,"y":0.377},{"x":0.806,"y":0.448},{"x":0.806,"y":0.518},{"x":0.806,"y":0.585},{"x":0.806,"y":0.647},{"x":0.806,"y":0.705},{"x":0.806,"y":0.758},{"x":0.806,"y":0.806},{"x":0.806,"y":0.849},{"x":0.806,"y":0.887},{"x":0.806,"y":0.92},{"x":0.806,"y":0.948},{"x":0.806,"y":0.974},{"x":0.806,"y":1},
{"x":0.849,"y":-1},{"x":0.849,"y":-0.974},{"x":0.849,"y":-0.948},{"x":0.849,"y":-0.92},{"x":0.849,"y":-0.887},{"x":0.849,"y":-0.849},{"x":0.849,"y":-0.806},{"x":0.849,"y":-0.758},{"x":0.849,"y":-0.705},{"x":0.849,"y":-0.647},{"x":0.849,"y":-0.585},{"x":0.849,"y":-0.518},{"x":0.849,"y":-0.448},{"x":0.849,"y":-0.377},{"x":0.849,"y":-0.304},{"x":0.849,"y":-0.229},{"x":0.849,"y":-0.153},{"x":0.849,"y":-0.077},{"x":0.849,"y":0},{"x":0.849,"y":0.077},{"x":0.849,"y":0.153},{"x":0.849,"y":0.229},{"x":0.849,"y":0.304},{"x":0.849,"y":0.377},{"x":0.849,"y":0.448},{"x":0.849,"y":0.518},{"x":0.849,"y":0.585},{"x":0.849,"y":0.647},{"x":0.849,"y":0.705},{"x":0.849,"y":0.758},{"x":0.849,"y":0.806},{"x":0.849,"y":0.849},{"x":0.849,"y":0.887},{"x":0.849,"y":0.92},{"x":0.849,"y":0.948},{"x":0.849,"y":0.974},{"x":0.849,"y":1},
{"x":0.887,"y":-1},{"x":0.887,"y":-0.974},{"x":0.887,"y":-0.948},{"x":0.887,"y":-0.92},{"x":0.887,"y":-0.887},{"x":0.887,"y":-0.849},{"x":0.887,"y":-0.806},{"x":0.887,"y":-0.758},{"x":0.887,"y":-0.705},{"x":0.887,"y":-0.647},{"x":0.887,"y":-0.585},{"x":0.887,"y":-0.518},{"x":0.887,"y":-0.448},{"x":0.887,"y":-0.377},{"x":0.887,"y":-0.304},{"x":0.887,"y":-0.229},{"x":0.887,"y":-0.153},{"x":0.887,"y":-0.077},{"x":0.887,"y":0},{"x":0.887,"y":0.077},{"x":0.887,"y":0.153},{"x":0.887,"y":0.229},{"x":0.887,"y":0.304},{"x":0.887,"y":0.377},{"x":0.887,"y":0.448},{"x":0.887,"y":0.518},{"x":0.887,"y":0.585},{"x":0.887,"y":0.647},{"x":0.887,"y":0.705},{"x":0.887,"y":0.758},{"x":0.887,"y":0.806},{"x":0.887,"y":0.849},{"x":0.887,"y":0.887},{"x":0.887,"y":0.92},{"x":0.887,"y":0.948},{"x":0.887,"y":0.974},{"x":0.887,"y":1},
{"x":0.92,"y":-1},{"x":0.92,"y":-0.974},{"x":0.92,"y":-0.948},{"x":0.92,"y":-0.92},{"x":0.92,"y":-0.887},{"x":0.92,"y":-0.849},{"x":0.92,"y":-0.806},{"x":0.92,"y":-0.758},{"x":0.92,"y":-0.705},{"x":0.92,"y":-0.647},{"x":0.92,"y":-0.585},{"x":0.92,"y":-0.518},{"x":0.92,"y":-0.448},{"x":0.92,"y":-0.377},{"x":0.92,"y":-0.304},{"x":0.92,"y":-0.229},{"x":0.92,"y":-0.153},{"x":0.92,"y":-0.077},{"x":0.92,"y":0},{"x":0.92,"y":0.077},{"x":0.92,"y":0.153},{"x":0.92,"y":0.229},{"x":0.92,"y":0.304},{"x":0.92,"y":0.377},{"x":0.92,"y":0.448},{"x":0.92,"y":0.518},{"x":0.92,"y":0.585},{"x":0.92,"y":0.647},{"x":0.92,"y":0.705},{"x":0.92,"y":0.758},{"x":0.92,"y":0.806},{"x":0.92,"y":0.849},{"x":0.92,"y":0.887},{"x":0.92,"y":0.92},{"x":0.92,"y":0.948},{"x":0.92,"y":0.974},{"x":0.92,"y":1},
{"x":0.948,"y":-1},{"x":0.948,"y":-0.974},{"x":0.948,"y":-0.948},{"x":0.948,"y":-0.92},{"x":0.948,"y":-0.887},{"x":0.948,"y":-0.849},{"x":0.948,"y":-0.806},{"x":0.948,"y":-0.758},{"x":0.948,"y":-0.705},{"x":0.948,"y":-0.647},{"x":0.948,"y":-0.585},{"x":0.948,"y":-0.518},{"x":0.948,"y":-0.448},{"x":0.948,"y":-0.377},{"x":0.948,"y":-0.304},{"x":0.948,"y":-0.229},{"x":0.948,"y":-0.153},{"x":0.948,"y":-0.077},{"x":0.948,"y":0},{"x":0.948,"y":0.077},{"x":0.948,"y":0.153},{"x":0.948,"y":0.229},{"x":0.948,"y":0.304},{"x":0.948,"y":0.377},{"x":0.948,"y":0.448},{"x":0.948,"y":0.518},{"x":0.948,"y":0.585},{"x":0.948,"y":0.647},{"x":0.948,"y":0.705},{"x":0.948,"y":0.758},{"x":0.948,"y":0.806},{"x":0.948,"y":0.849},{"x":0.948,"y":0.887},{"x":0.948,"y":0.92},{"x":0.948,"y":0.948},{"x":0.948,"y":0.974},{"x":0.948,"y":1},
{"x":0.974,"y":-1},{"x":0.974,"y":-0.974},{"x":0.974,"y":-0.948},{"x":0.974,"y":-0.92},{"x":0.974,"y":-0.887},{"x":0.974,"y":-0.849},{"x":0.974,"y":-0.806},{"x":0.974,"y":-0.758},{"x":0.974,"y":-0.705},{"x":0.974,"y":-0.647},{"x":0.974,"y":-0.585},{"x":0.974,"y":-0.518},{"x":0.974,"y":-0.448},{"x":0.974,"y":-0.377},{"x":0.974,"y":-0.304},{"x":0.974,"y":-0.229},{"x":0.974,"y":-0.153},{"x":0.974,"y":-0.077},{"x":0.974,"y":0},{"x":0.974,"y":0.077},{"x":0.974,"y":0.153},{"x":0.974,"y":0.229},{"x":0.974,"y":0.304},{"x":0.974,"y":0.377},{"x":0.974,"y":0.448},{"x":0.974,"y":0.518},{"x":0.974,"y":0.585},{"x":0.974,"y":0.647},{"x":0.974,"y":0.705},{"x":0.974,"y":0.758},{"x":0.974,"y":0.806},{"x":0.974,"y":0.849},{"x":0.974,"y":0.887},{"x":0.974,"y":0.92},{"x":0.974,"y":0.948},{"x":0.974,"y":0.974},{"x":0.974,"y":1},
{"x":1,"y":-1},{"x":1,"y":-0.974},{"x":1,"y":-0.948},{"x":1,"y":-0.92},{"x":1,"y":-0.887},{"x":1,"y":-0.849},{"x":1,"y":-0.806},{"x":1,"y":-0.758},{"x":1,"y":-0.705},{"x":1,"y":-0.647},{"x":1,"y":-0.585},{"x":1,"y":-0.518},{"x":1,"y":-0.448},{"x":1,"y":-0.377},{"x":1,"y":-0.304},{"x":1,"y":-0.229},{"x":1,"y":-0.153},{"x":1,"y":-0.077},{"x":1,"y":0},{"x":1,"y":0.077},{"x":1,"y":0.153},{"x":1,"y":0.229},{"x":1,"y":0.304},{"x":1,"y":0.377},{"x":1,"y":0.448},{"x":1,"y":0.518},{"x":1,"y":0.585},{"x":1,"y":0.647},{"x":1,"y":0.705},{"x":1,"y":0.758},{"x":1,"y":0.806},{"x":1,"y":0.849},{"x":1,"y":0.887},{"x":1,"y":0.92},{"x":1,"y":0.948},{"x":1,"y":0.974},{"x":1,"y":1}
],
"support": [
{"x":-1,"y":1},{"x":-0.585,"y":1},{"x":0,"y":1},{"x":0.585,"y":1},{"x":1,"y":1},
{"x":-0.647,"y":0.647},{"x":0,"y":0.705},{"x":0.647,"y":0.647},
{"x":-1,"y":0.585},{"x":1,"y":0.585},
{"x":-1,"y":0},{"x":-0.705,"y":0},{"x":0,"y":0},{"x":0.705,"y":0},{"x":1,"y":0},
{"x":-1,"y":-0.585},{"x":1,"y":-0.585},
{"x":-0.647,"y":-0.647},{"x":0,"y":-0.705},{"x":0.647,"y":-0.647},
{"x":-1,"y":-1},{"x":-0.585,"y":-1},{"x":0,"y":-1},{"x":0.585,"y":-1},{"x":1,"y":-1}
]
},
"layer": [
  {
    "data": {"name": "grid"},
    "mark": {"type": "point", "shape": "square", "filled": true, "size": 5, "color": "#0072BD", "opacity": 1},
    "encoding": {
      "x": {"field": "x", "type": "quantitative", "scale": {"domain": [-1, 1], "nice": false, "zero": false}, "axis": {"orient": "bottom", "values": [-1, -0.5, 0, 0.5, 1], "labelExpr": "'' + datum.value", "labelPadding": 9}},
      "y": {"field": "y", "type": "quantitative", "scale": {"domain": [-1, 1], "nice": false, "zero": false}, "axis": {"orient": "left", "values": [-1, -0.8, -0.6, -0.4, -0.2, 0, 0.2, 0.4, 0.6, 0.8, 1], "labelExpr": "'' + datum.value", "labelPadding": 9}}
    }
  },
  {
    "data": {"name": "support"},
    "mark": {"type": "point", "shape": "circle", "filled": false, "size": 28, "color": "#D95319", "strokeWidth": 1, "opacity": 1},
    "encoding": {
      "x": {"field": "x", "type": "quantitative", "scale": {"domain": [-1, 1], "nice": false, "zero": false}, "axis": {"orient": "top", "values": [-1, -0.5, 0, 0.5, 1], "labels": false}},
      "y": {"field": "y", "type": "quantitative", "scale": {"domain": [-1, 1], "nice": false, "zero": false}, "axis": {"orient": "right", "values": [-1, -0.8, -0.6, -0.4, -0.2, 0, 0.2, 0.4, 0.6, 0.8, 1], "labels": false}}
    }
  }
],
"resolve": {"axis": {"x": "independent", "y": "independent"}}
}
